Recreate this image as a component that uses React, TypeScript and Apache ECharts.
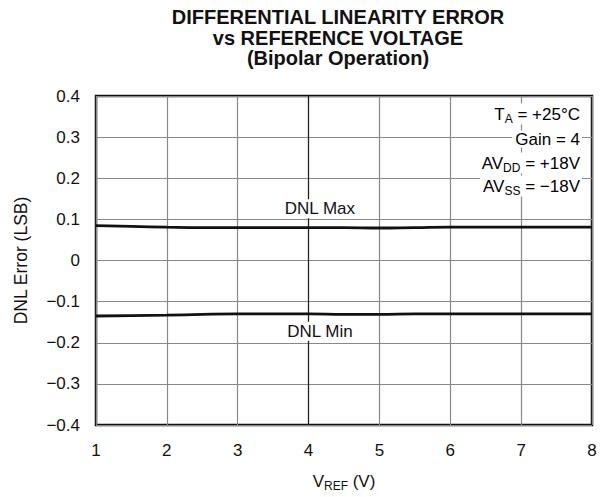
import React, { useEffect, useRef } from "react";
import * as echarts from "echarts";

const vref = [1, 1.5, 2, 2.5, 3, 3.5, 4, 4.5, 5, 5.5, 6, 6.5, 7, 7.5, 8];
const dnlMax = [0.085, 0.083, 0.081, 0.08, 0.08, 0.08, 0.08, 0.08, 0.079, 0.08, 0.081, 0.081, 0.081, 0.081, 0.081];
const dnlMin = [-0.135, -0.134, -0.133, -0.131, -0.13, -0.13, -0.13, -0.131, -0.131, -0.13, -0.13, -0.13, -0.13, -0.13, -0.13];
const titleLines = ["DIFFERENTIAL LINEARITY ERROR", "vs REFERENCE VOLTAGE", "(Bipolar Operation)"];

const FONT = "'Liberation Sans', Arial, Helvetica, sans-serif";

export default function App() {
  const ref = useRef<HTMLDivElement>(null);
  useEffect(() => {
    document.body.style.margin = "0";
    const chart = echarts.init(ref.current!, null, { renderer: "svg" });
    const fmt = (v: number) => {
      const r = Math.round(v * 10) / 10;
      if (r === 0) return "0";
      return (r < 0 ? "\u2212" : "") + Math.abs(r).toFixed(1);
    };
    const rich = {
      n: { fontSize: 17, fontFamily: FONT, color: "#111" },
      s: { fontSize: 12, fontFamily: FONT, color: "#111", padding: [9, 0, 0, 0] },
    };
    const annX = 582;
    const ann = [
      { t: "{n|T}{s|A}{n| = +25°C}", y: 114 },
      { t: "{n|Gain = 4}", y: 139 },
      { t: "{n|AV}{s|DD}{n| = +18V}", y: 163 },
      { t: "{n|AV}{s|SS}{n| = \u221218V}", y: 186 },
    ];
    chart.setOption({
      animation: false,
      backgroundColor: "#fff",
      textStyle: { fontFamily: FONT },
      title: {
        text: titleLines.join("\n"),
        left: 338,
        top: 7,
        padding: 0,
        textAlign: "center",
        textStyle: { fontSize: 20, fontWeight: "bold", color: "#111", lineHeight: 20.5, fontFamily: FONT },
      },
      grid: { left: 96, right: 13, top: 96, bottom: 65, show: true, borderColor: "#111", borderWidth: 2.5, backgroundColor: "transparent" },
      xAxis: {
        type: "value",
        min: 1,
        max: 8,
        interval: 1,
        name: "{n|V}{s|REF}{n| (V)}",
        nameLocation: "middle",
        nameGap: 46,
        nameTextStyle: { rich },
        axisLine: { show: false },
        axisTick: { show: false },
        axisLabel: { fontSize: 17, color: "#111", margin: 17, formatter: (v: number) => String(v) },
        splitLine: { show: true, lineStyle: { color: "#888", width: 1.2 } },
      },
      yAxis: {
        type: "value",
        min: -0.4,
        max: 0.4,
        interval: 0.1,
        name: "DNL Error (LSB)",
        nameLocation: "middle",
        nameGap: 66,
        nameTextStyle: { fontSize: 17.5, color: "#111" },
        axisLine: { show: false },
        axisTick: { show: false },
        axisLabel: { fontSize: 17, color: "#111", margin: 16, formatter: fmt },
        splitLine: { show: true, lineStyle: { color: "#888", width: 1.2 } },
      },
      graphic: ann.map((a) => ({
        type: "text",
        x: annX,
        y: a.y,
        z: 100,
        style: {
          text: a.t,
          rich,
          align: "right",
          verticalAlign: "middle",
          backgroundColor: "#fff",
          padding: [0, 2, 0, 3],
        },
      })),
      series: [
        {
          type: "line",
          data: vref.map((x, i) => [x, dnlMax[i]]),
          symbol: "none",
          smooth: true,
          lineStyle: { color: "#111", width: 2.8 },
          z: 5,
          markLine: {
            silent: true,
            symbol: "none",
            label: { show: false },
            lineStyle: { color: "#222", width: 1.2, type: "solid" },
            data: [{ xAxis: 4 }],
            z: 1,
          },
          markPoint: {
            symbol: "circle",
            symbolSize: 0,
            data: [{ coord: [4.16, 0.126] }],
            label: {
              show: true,
              formatter: "DNL Max",
              fontSize: 17,
              color: "#111",
              backgroundColor: "#fff",
              padding: [1, 2, 1, 2],
            },
            z: 20,
          },
        },
        {
          type: "line",
          data: vref.map((x, i) => [x, dnlMin[i]]),
          symbol: "none",
          smooth: true,
          lineStyle: { color: "#111", width: 2.8 },
          z: 5,
          markPoint: {
            symbol: "circle",
            symbolSize: 0,
            data: [{ coord: [4.16, -0.172] }],
            label: {
              show: true,
              formatter: "DNL Min",
              fontSize: 17,
              color: "#111",
              backgroundColor: "#fff",
              padding: [1, 2, 1, 2],
            },
            z: 20,
          },
        },
      ],
    });
    return () => chart.dispose();
  }, []);
  return <div ref={ref} style={{ width: 605, height: 497 }} />;
}
